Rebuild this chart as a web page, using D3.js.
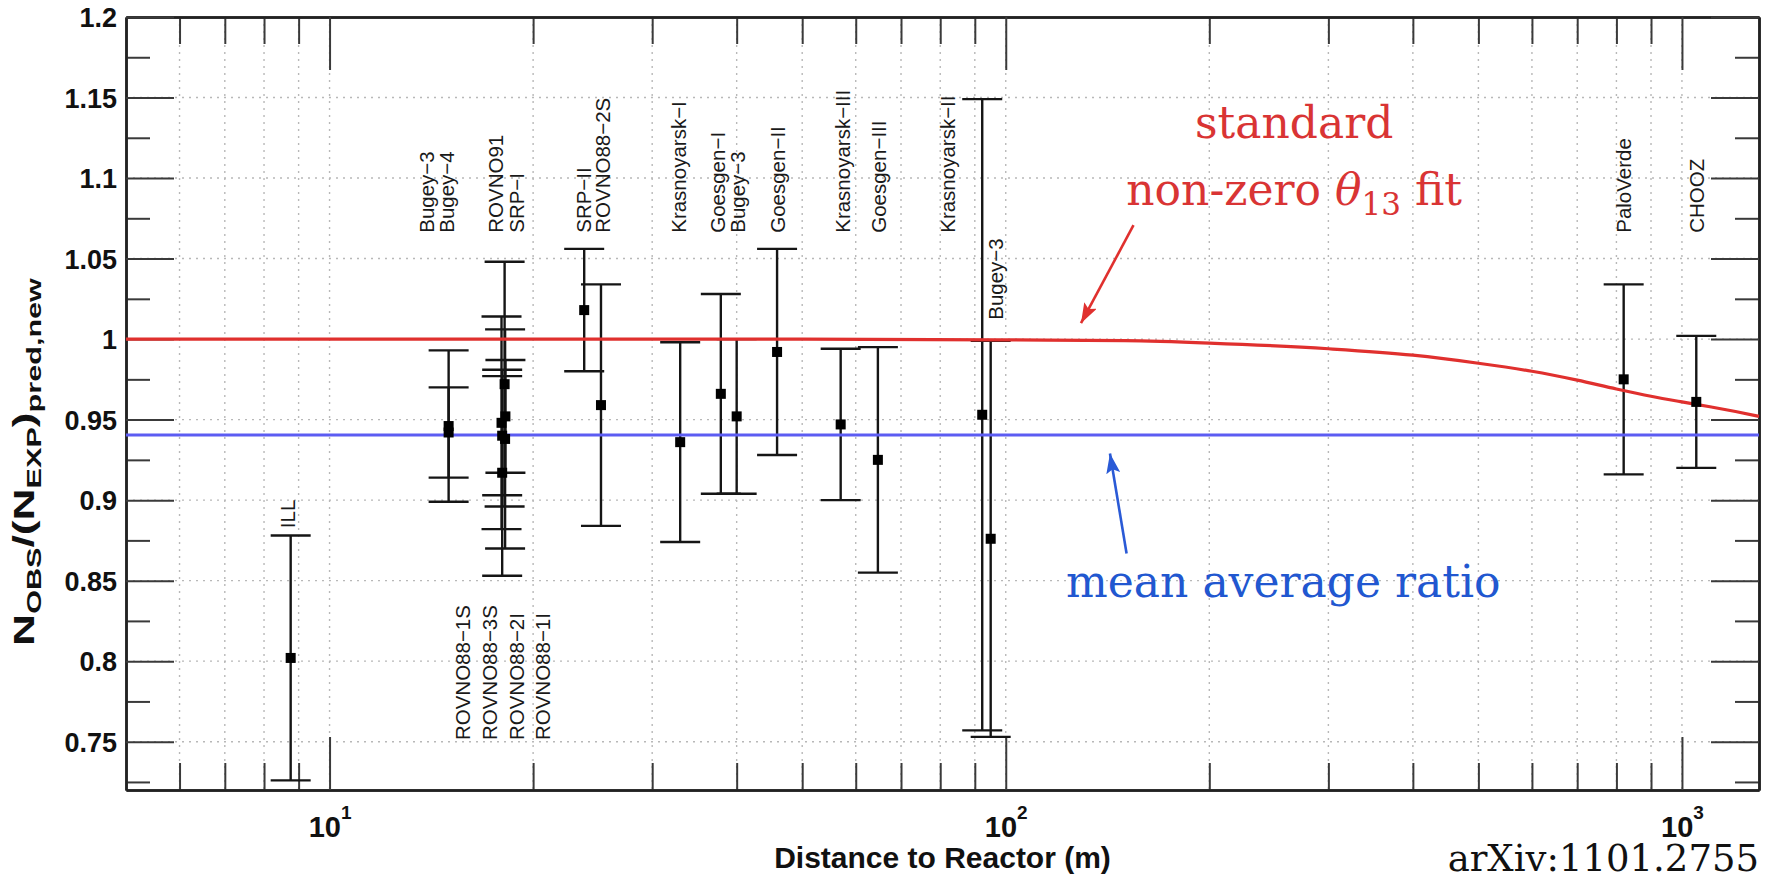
<!DOCTYPE html>
<html><head><meta charset="utf-8">
<script src="https://cdn.jsdelivr.net/npm/d3@7"></script>
<style>body{margin:0;background:#fff}svg{display:block}</style>
</head><body>
<svg id="chart" width="1772" height="880"></svg>
<script>
// ---------------- data ----------------
const experimentNames = ["ILL","Bugey-4","Bugey-3","ROVNO91","SRP-I","ROVNO88-1I","ROVNO88-2I","ROVNO88-1S","ROVNO88-3S","SRP-II","ROVNO88-2S","Krasnoyarsk-I","Goesgen-I","Bugey-3","Goesgen-II","Krasnoyarsk-III","Goesgen-III","Krasnoyarsk-II","Bugey-3","PaloVerde","CHOOZ"];
const distances = [8.76, 15, 15, 18, 18.2, 18, 17.96, 18.15, 18.18, 23.8, 25.2, 33, 37.9, 40, 45.9, 57, 64.7, 92.3, 95, 820, 1050];
const ratios    = [0.802, 0.942, 0.946, 0.940, 0.952, 0.917, 0.948, 0.972, 0.938, 1.018, 0.959, 0.936, 0.966, 0.952, 0.992, 0.947, 0.925, 0.953, 0.876, 0.975, 0.961];
const errors    = [0.076, 0.028, 0.047, 0.037, 0.035, 0.064, 0.066, 0.076, 0.068, 0.038, 0.075, 0.062, 0.062, 0.048, 0.064, 0.047, 0.070, 0.196, 0.123, 0.059, 0.041];

const labelTexts  = ["Bugey−3","Bugey−4","ROVNO91","SRP−I","SRP−II","ROVNO88−2S","Krasnoyarsk−I","Goesgen−I","Bugey−3","Goesgen−II","Krasnoyarsk−III","Goesgen−III","Krasnoyarsk−II","Bugey−3","PaloVerde","CHOOZ","ILL","ROVNO88−1S","ROVNO88−3S","ROVNO88−2I","ROVNO88−1I"];
const labelDists  = [14.29, 15.26, 18.07, 19.42, 24.39, 26.03, 33.71, 38.48, 41.18, 47.1, 58.77, 66.5, 84.1, 98.9, 840.8, 1078, 8.89, 16.13, 17.67, 19.36, 21.21];
const labelRatios = [1.066, 1.066, 1.066, 1.066, 1.066, 1.066, 1.066, 1.066, 1.066, 1.066, 1.066, 1.066, 1.066, 1.012, 1.066, 1.066, 0.8826, 0.751, 0.751, 0.751, 0.751];

const fitDistances = [5, 50, 100, 150, 200, 300, 400, 500, 600, 700, 800, 900, 1000, 1100, 1200, 1300];
const fitRatios    = [1.000, 1.000, 0.9995, 0.999, 0.9975, 0.994, 0.990, 0.985, 0.980, 0.9745, 0.969, 0.9645, 0.961, 0.958, 0.955, 0.952];
const meanRatio = 0.9405;

const xMajorTicks = [10, 100, 1000];
const xMinorTicks = [6,7,8,9,20,30,40,50,60,70,80,90,200,300,400,500,600,700,800,900];
const yMajorTicks = [0.75,0.8,0.85,0.9,0.95,1.0,1.05,1.1,1.15,1.2];
const yMinorTicks = [0.725,0.775,0.825,0.875,0.925,0.975,1.025,1.075,1.125,1.175];
const yGridValues = [0.75,0.8,0.85,0.9,0.95,1.0,1.05,1.1,1.15];

// ---------------- layout ----------------
const L = 126, R = 1759, T = 17, B = 790;
const svg = d3.select("#chart");
const x = d3.scaleLog().domain([5, 1300]).range([L, R]);
const y = d3.scaleLinear().domain([0.72, 1.2]).range([B, T]);

const SANS = "'Liberation Sans', Arial, Helvetica, sans-serif";
const SERIF = "'DejaVu Serif', serif";

svg.append("rect").attr("width",1772).attr("height",880).attr("fill","#fff");

// grid
const grid = svg.append("g").attr("stroke","#b8b8b8").attr("stroke-width",1.4).attr("stroke-dasharray","2,5");
grid.selectAll("line.v").data(xMinorTicks.concat(xMajorTicks)).join("line")
  .attr("x1", d=>x(d)).attr("x2", d=>x(d)).attr("y1", T).attr("y2", B);
grid.selectAll("line.h").data(yGridValues).join("line")
  .attr("x1", L).attr("x2", R).attr("y1", d=>y(d)).attr("y2", d=>y(d));

// axes (ticks inside, ROOT style)
function styleAxis(g){
  g.selectAll(".tick line").attr("stroke","#3a3a3a").attr("stroke-width",2);
  g.select(".domain").attr("stroke","#222").attr("stroke-width",2.5);
}
const axB1 = svg.append("g").attr("transform",`translate(0,${B})`)
  .call(d3.axisBottom(x).tickValues(xMinorTicks).tickSize(-27).tickSizeOuter(0).tickFormat(""));
const axB2 = svg.append("g").attr("transform",`translate(0,${B})`)
  .call(d3.axisBottom(x).tickValues(xMajorTicks).tickSize(-53).tickSizeOuter(0).tickPadding(26));
const axT1 = svg.append("g").attr("transform",`translate(0,${T})`)
  .call(d3.axisTop(x).tickValues(xMinorTicks).tickSize(-27).tickSizeOuter(0).tickFormat(""));
const axT2 = svg.append("g").attr("transform",`translate(0,${T})`)
  .call(d3.axisTop(x).tickValues(xMajorTicks).tickSize(-53).tickSizeOuter(0).tickFormat(""));
const axL1 = svg.append("g").attr("transform",`translate(${L},0)`)
  .call(d3.axisLeft(y).tickValues(yMinorTicks).tickSize(-24).tickSizeOuter(0).tickFormat(""));
const axL2 = svg.append("g").attr("transform",`translate(${L},0)`)
  .call(d3.axisLeft(y).tickValues(yMajorTicks).tickSize(-48).tickSizeOuter(0).tickPadding(9)
        .tickFormat(d => String(+d.toFixed(3))));
const axR1 = svg.append("g").attr("transform",`translate(${R},0)`)
  .call(d3.axisRight(y).tickValues(yMinorTicks).tickSize(-24).tickSizeOuter(0).tickFormat(""));
const axR2 = svg.append("g").attr("transform",`translate(${R},0)`)
  .call(d3.axisRight(y).tickValues(yMajorTicks).tickSize(-48).tickSizeOuter(0).tickFormat(""));
[axB1,axB2,axT1,axT2,axL1,axL2,axR1,axR2].forEach(styleAxis);

axL2.attr("font-family", SANS).attr("font-size", 27).attr("font-weight","bold");
axL2.selectAll(".tick text").attr("fill","#111").attr("dy","0.36em");

axB2.attr("font-family", SANS).attr("font-size", 29).attr("font-weight","bold");
axB2.selectAll(".tick text").each(function(d){
  const t = d3.select(this);
  t.text(null).attr("dy", null).attr("y", 47).attr("fill","#111");
  t.append("tspan").text("10");
  t.append("tspan").attr("dy", -18).attr("font-size", 19).text(Math.round(Math.log10(d)));
});

// axis titles
svg.append("text").attr("x", (L+R)/2).attr("y", 868).attr("text-anchor","middle")
  .attr("font-family", SANS).attr("font-weight","bold").attr("font-size", 30).attr("fill","#111")
  .text("Distance to Reactor (m)");

const yTitle = svg.append("text").attr("font-family", SANS).attr("font-weight","bold")
  .attr("font-size", 29).attr("fill","#111").attr("text-anchor","middle");
yTitle.append("tspan").text("N");
yTitle.append("tspan").attr("font-size",20).attr("dy",7).text("OBS");
yTitle.append("tspan").attr("dy",-7).text("/(N");
yTitle.append("tspan").attr("font-size",20).attr("dy",7).text("EXP");
yTitle.append("tspan").attr("dy",-7).text(")");
yTitle.append("tspan").attr("font-size",20).attr("dy",7).text("pred,new");
const natLen = yTitle.node().getComputedTextLength();
const sx = 368 / natLen;
yTitle.attr("transform", `translate(34,462) rotate(-90) scale(${sx},1)`);

// error bars
const pts = distances.map((d,i)=>({d, r: ratios[i], e: errors[i], name: experimentNames[i]}));
const eb = svg.append("g").attr("stroke","#151515").attr("stroke-width",2.4);
eb.selectAll("line.bar").data(pts).join("line")
  .attr("x1", p=>x(p.d)).attr("x2", p=>x(p.d))
  .attr("y1", p=>y(p.r+p.e)).attr("y2", p=>y(p.r-p.e));
eb.selectAll("line.capHi").data(pts).join("line")
  .attr("x1", p=>x(p.d)-20).attr("x2", p=>x(p.d)+20)
  .attr("y1", p=>y(p.r+p.e)).attr("y2", p=>y(p.r+p.e));
eb.selectAll("line.capLo").data(pts).join("line")
  .attr("x1", p=>x(p.d)-20).attr("x2", p=>x(p.d)+20)
  .attr("y1", p=>y(p.r-p.e)).attr("y2", p=>y(p.r-p.e));

// fit curve and mean line
const fitLine = d3.line().x(d=>x(d[0])).y(d=>y(d[1])).curve(d3.curveMonotoneX);
svg.append("path").datum(fitDistances.map((d,i)=>[d, fitRatios[i]]))
  .attr("d", fitLine).attr("fill","none").attr("stroke","#e0302e").attr("stroke-width",3.2);
svg.append("line").attr("x1", x(5)).attr("x2", x(1300)).attr("y1", y(meanRatio)).attr("y2", y(meanRatio))
  .attr("stroke","#5c5cf2").attr("stroke-width",3);

// markers
svg.append("g").selectAll("rect").data(pts).join("rect")
  .attr("x", p=>x(p.d)-5).attr("y", p=>y(p.r)-5).attr("width",10).attr("height",10).attr("fill","#000");

// experiment labels
svg.append("g").selectAll("text").data(labelTexts.map((t,i)=>({t, d: labelDists[i], r: labelRatios[i]}))).join("text")
  .attr("transform", l=>`translate(${x(l.d)},${y(l.r)}) rotate(-90)`)
  .attr("font-family", SANS).attr("font-size", 20.5).attr("fill","#1a1a1a")
  .text(l=>l.t);

// annotations
const defs = svg.append("defs");
function arrowMarker(id, color){
  defs.append("marker").attr("id", id).attr("viewBox","0 0 20 14").attr("refX",20).attr("refY",7)
    .attr("markerWidth",20).attr("markerHeight",14).attr("markerUnits","userSpaceOnUse").attr("orient","auto")
    .append("path").attr("d","M0,0 L20,7 L0,14 L4,7 Z").attr("fill", color);
}
arrowMarker("arrRed", "#e0302e");
arrowMarker("arrBlue", "#2a5ad6");

svg.append("text").attr("x", x(267)).attr("y", y(1.1247)).attr("text-anchor","middle")
  .attr("font-family", SERIF).attr("font-size", 44).attr("fill","#d93434").text("standard");
const t2 = svg.append("text").attr("x", x(267)).attr("y", y(1.083)).attr("text-anchor","middle")
  .attr("font-family", SERIF).attr("font-size", 44).attr("fill","#d93434");
t2.append("tspan").text("non-zero ");
t2.append("tspan").attr("font-style","italic").text("θ");
t2.append("tspan").attr("font-size",31).attr("dy",10).text("13");
t2.append("tspan").attr("dy",-10).text(" fit");
svg.append("line").attr("x1", x(154.5)).attr("y1", y(1.0707)).attr("x2", x(129.2)).attr("y2", y(1.0099))
  .attr("stroke","#e0302e").attr("stroke-width",2.6).attr("marker-end","url(#arrRed)");

svg.append("text").attr("x", x(122.8)).attr("y", y(0.84)).attr("text-anchor","start")
  .attr("font-family", SERIF).attr("font-size", 44).attr("fill","#2157d0").text("mean average ratio");
svg.append("line").attr("x1", x(150.9)).attr("y1", y(0.8669)).attr("x2", x(142.6)).attr("y2", y(0.929))
  .attr("stroke","#2a5ad6").attr("stroke-width",2.6).attr("marker-end","url(#arrBlue)");

svg.append("text").attr("x", 1759).attr("y", 871).attr("text-anchor","end")
  .attr("font-family", SERIF).attr("font-size", 37).attr("fill","#111").text("arXiv:1101.2755");
</script>
</body></html>
